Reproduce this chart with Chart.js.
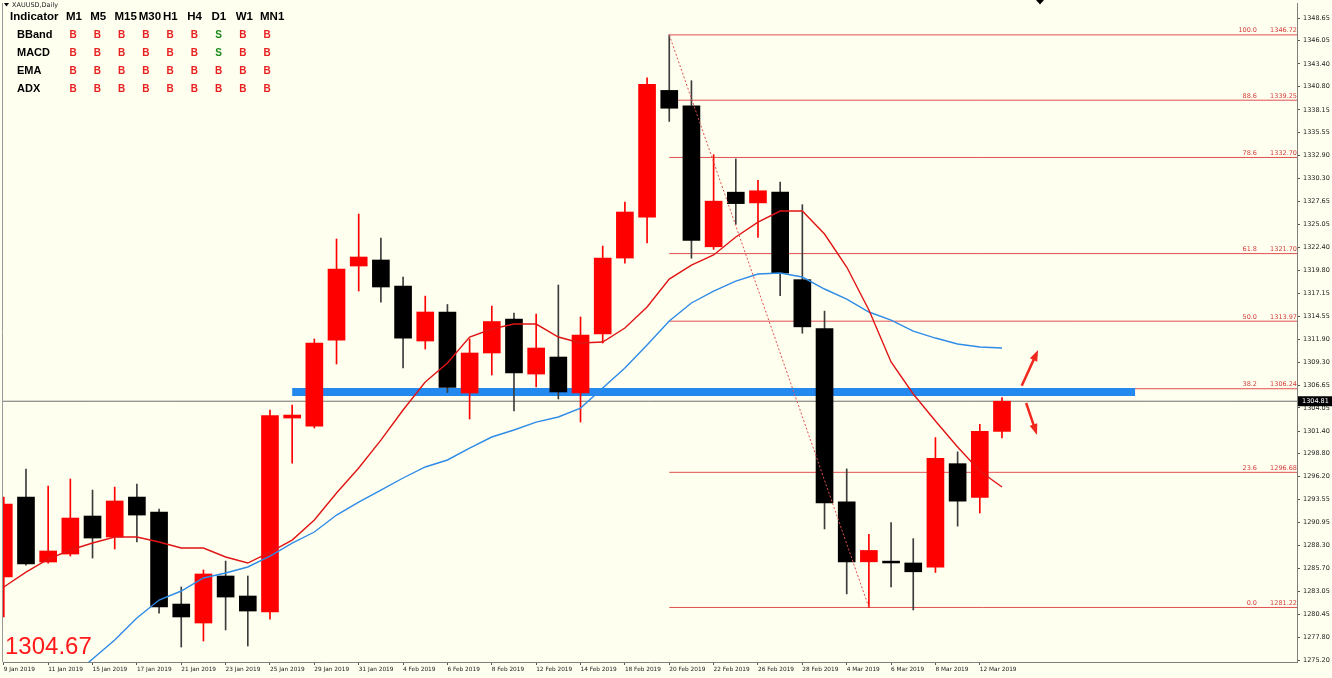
<!DOCTYPE html>
<html>
<head>
<meta charset="utf-8">
<script src="https://cdn.jsdelivr.net/npm/chart.js@4.4.1/dist/chart.umd.min.js"></script>
<style>
  html, body { margin: 0; padding: 0; background: #FFFFF0; overflow: hidden; }
</style>
</head>
<body>
<canvas id="chart" width="1332" height="678"></canvas>
<script>
// XAUUSD daily candles, 9 Jan - 13 Mar 2019
const dates = ["9 Jan","10 Jan","11 Jan","14 Jan","15 Jan","16 Jan","17 Jan","18 Jan","21 Jan","22 Jan",
  "23 Jan","24 Jan","25 Jan","28 Jan","29 Jan","30 Jan","31 Jan","1 Feb","4 Feb","5 Feb",
  "6 Feb","7 Feb","8 Feb","11 Feb","12 Feb","13 Feb","14 Feb","15 Feb","18 Feb","19 Feb",
  "20 Feb","21 Feb","22 Feb","25 Feb","26 Feb","27 Feb","28 Feb","1 Mar","4 Mar","5 Mar",
  "6 Mar","7 Mar","8 Mar","11 Mar","12 Mar","13 Mar"];

const open = [1284.70,1293.85,1286.42,1287.33,1291.68,1289.28,1293.85,1292.14,1281.61,1279.44,
  1284.82,1282.53,1280.70,1302.89,1301.97,1311.81,1320.28,1320.97,1317.99,1311.70,
  1315.02,1305.75,1310.33,1314.22,1307.92,1309.87,1305.75,1312.50,1321.19,1325.87,
  1340.37,1338.62,1322.48,1328.73,1327.50,1328.73,1318.72,1313.12,1293.30,1286.44,
  1286.52,1286.31,1285.83,1297.67,1293.80,1301.36];
const high = [1293.85,1297.06,1295.11,1295.91,1294.65,1294.99,1295.34,1292.48,1283.56,1285.51,
  1286.53,1284.82,1303.81,1304.38,1311.93,1323.37,1326.23,1323.48,1319.02,1316.84,
  1315.88,1311.93,1315.70,1314.90,1314.79,1318.11,1314.45,1322.56,1327.60,1341.80,
  1346.72,1341.48,1333.02,1332.53,1330.07,1329.88,1327.30,1315.12,1297.07,1289.59,
  1290.94,1289.09,1300.66,1299.02,1302.17,1305.24];
const low = [1280.13,1286.07,1286.30,1287.10,1286.87,1287.91,1288.71,1280.58,1276.69,1277.38,
  1278.64,1276.81,1279.89,1297.74,1301.75,1309.07,1317.42,1316.15,1308.61,1310.78,
  1305.81,1302.78,1307.81,1303.69,1306.44,1305.07,1302.43,1311.47,1320.62,1322.92,
  1336.82,1321.17,1322.19,1325.05,1323.54,1316.88,1312.59,1290.20,1282.77,1281.22,
  1283.58,1280.93,1285.22,1290.52,1292.03,1300.62];
const close = [1293.05,1286.19,1287.68,1291.45,1289.16,1293.40,1291.79,1281.27,1280.13,1285.05,
  1282.41,1280.81,1303.18,1303.23,1311.47,1319.94,1321.31,1317.88,1312.04,1315.02,
  1306.38,1310.33,1313.93,1308.04,1310.90,1305.87,1312.39,1321.19,1326.46,1341.07,
  1338.33,1323.21,1327.70,1327.42,1328.89,1319.46,1313.32,1293.18,1286.44,1287.74,
  1286.31,1285.30,1298.29,1293.38,1301.36,1304.81];

// moving averages
const maFast = [1283.56,1285.27,1286.76,1287.79,1288.59,1289.28,1289.28,1288.71,1288.02,1288.02,
  1286.99,1286.30,1287.56,1288.93,1291.22,1294.31,1297.17,1300.37,1303.81,1307.01,
  1309.18,1312.16,1313.07,1313.64,1313.64,1312.16,1311.47,1311.59,1313.19,1315.59,
  1318.79,1320.39,1321.54,1323.60,1325.31,1326.57,1326.57,1323.94,1320.17,1315.25,
  1309.30,1305.64,1302.55,1299.57,1296.83,1295.00];
const maSlow = [null,null,null,1273.15,1275.32,1277.49,1280.01,1282.07,1283.10,1284.59,
  1285.16,1285.85,1287.10,1288.59,1289.85,1291.79,1293.28,1294.65,1296.03,1297.29,
  1298.09,1299.46,1300.72,1301.52,1302.43,1303.01,1304.03,1306.32,1308.61,1311.24,
  1313.99,1316.05,1317.42,1318.56,1319.36,1319.48,1319.02,1317.65,1316.50,1315.02,
  1314.10,1312.84,1312.04,1311.36,1311.01,1310.90];

// fibonacci retracement (20 Feb high -> 5 Mar low)
const fibLevels = ["100.0","88.6","78.6","61.8","50.0","38.2","23.6","0.0"];
const fibPrices = [1346.72,1339.25,1332.70,1321.70,1313.97,1306.24,1296.68,1281.22];
const fibHighBar = 30, fibLowBar = 39;

// support zone, last price, arrows
const zoneBars = [13, 51];
const zonePrice = 1305.87;
const lastPrice = 1304.81;
const bidText = "1304.67";
const arrowFrom = [[45.89, 1306.59], [46.09, 1304.61]];
const arrowTo = [[46.63, 1310.67], [46.58, 1300.95]];

const yTicks = [1348.65,1346.05,1343.40,1340.80,1338.15,1335.55,1332.90,1330.30,1327.65,1325.05,
  1322.40,1319.80,1317.15,1314.55,1311.90,1309.30,1306.65,1304.05,1301.40,1298.80,
  1296.20,1293.55,1290.95,1288.30,1285.70,1283.05,1280.45,1277.80,1275.20];

// signal table
const timeframes = ["M1","M5","M15","M30","H1","H4","D1","W1","MN1"];
const indicators = ["BBand","MACD","EMA","ADX"];
const signals = [
  ["B","B","B","B","B","B","S","B","B"],
  ["B","B","B","B","B","B","S","B","B"],
  ["B","B","B","B","B","B","B","B","B"],
  ["B","B","B","B","B","B","B","B","B"]
];

const X_MAX = 58.3;
const UP = "#ff0000", DOWN = "#000000", DOWN_WICK = "#3c3c3c";
const isUp = close.map((c, i) => c >= open[i]);

Chart.defaults.font.family = "'DejaVu Sans', sans-serif";

const overlay = {
  id: "overlay",
  beforeDraw(chart) {
    const ctx = chart.ctx;
    ctx.save();
    ctx.fillStyle = "#FFFFF0";
    ctx.fillRect(0, 0, chart.width, chart.height);
    ctx.restore();
  },
  afterDraw(chart) {
    const { ctx, chartArea: a } = chart;
    const x = chart.scales.x, y = chart.scales.y;
    ctx.save();

    // left frame
    ctx.strokeStyle = "#9a9a9a";
    ctx.lineWidth = 1;
    ctx.beginPath();
    ctx.moveTo(a.left - 0.5, a.top);
    ctx.lineTo(a.left - 0.5, a.bottom);
    ctx.stroke();

    // fib labels
    ctx.font = "6.5px 'DejaVu Sans'";
    ctx.fillStyle = "#d43c3c";
    ctx.textAlign = "right";
    ctx.textBaseline = "bottom";
    fibLevels.forEach((lv, i) => {
      const py = y.getPixelForValue(fibPrices[i]);
      ctx.fillText(lv, a.right - 40, py - 1);
      ctx.fillText(fibPrices[i].toFixed(2), a.right, py - 1);
    });

    // arrows
    ctx.strokeStyle = "#f0281e";
    ctx.fillStyle = "#f0281e";
    ctx.lineWidth = 2.5;
    arrowFrom.forEach((f, i) => {
      const x0 = x.getPixelForValue(f[0]), y0 = y.getPixelForValue(f[1]);
      const x1 = x.getPixelForValue(arrowTo[i][0]), y1 = y.getPixelForValue(arrowTo[i][1]);
      const ang = Math.atan2(y1 - y0, x1 - x0);
      const c = Math.cos(ang), s = Math.sin(ang);
      ctx.beginPath();
      ctx.moveTo(x0, y0);
      ctx.lineTo(x1 - 7 * c, y1 - 7 * s);
      ctx.stroke();
      ctx.beginPath();
      ctx.moveTo(x1, y1);
      ctx.lineTo(x1 - 11 * c + 4 * s, y1 - 11 * s - 4 * c);
      ctx.lineTo(x1 - 11 * c - 4 * s, y1 - 11 * s + 4 * c);
      ctx.closePath();
      ctx.fill();
    });

    // last price box
    const pp = y.getPixelForValue(lastPrice);
    ctx.fillStyle = "#000";
    ctx.fillRect(a.right + 1, pp - 5, chart.width - a.right - 1, 10);
    ctx.fillStyle = "#fff";
    ctx.textAlign = "left";
    ctx.textBaseline = "middle";
    ctx.font = "6.5px 'DejaVu Sans'";
    ctx.fillText(lastPrice.toFixed(2), a.right + 5, pp);

    // bid text
    ctx.fillStyle = "#ff1a1a";
    ctx.font = "24px 'Liberation Sans'";
    ctx.textBaseline = "alphabetic";
    ctx.fillText(bidText, 5, 654);

    // symbol caption
    ctx.fillStyle = "#000";
    ctx.beginPath();
    ctx.moveTo(4, 3); ctx.lineTo(9, 3); ctx.lineTo(6.5, 6.5); ctx.closePath();
    ctx.fill();
    ctx.font = "6.5px 'DejaVu Sans'";
    ctx.fillStyle = "#222";
    ctx.textBaseline = "middle";
    ctx.fillText("XAUUSD,Daily", 12, 5);

    // chart shift marker
    ctx.fillStyle = "#000";
    ctx.beginPath();
    ctx.moveTo(1036, 0); ctx.lineTo(1044, 0); ctx.lineTo(1040, 4.5); ctx.closePath();
    ctx.fill();

    // signal table
    ctx.fillStyle = "#000";
    ctx.font = "bold 11.5px 'Liberation Sans'";
    ctx.textAlign = "left";
    ctx.fillText("Indicator", 10, 17);
    timeframes.forEach((tf, j) => ctx.fillText(tf, 66 + j * 24.25, 17));
    indicators.forEach((ind, r) => {
      const ry = 35 + r * 18;
      ctx.font = "bold 11px 'Liberation Sans'";
      ctx.fillStyle = "#000";
      ctx.textAlign = "left";
      ctx.fillText(ind, 17, ry);
      ctx.font = "bold 10px 'Liberation Sans'";
      ctx.textAlign = "center";
      signals[r].forEach((sg, j) => {
        ctx.fillStyle = sg === "S" ? "#1a8a1a" : "#e82020";
        ctx.fillText(sg, 73 + j * 24.25, ry);
      });
    });
    ctx.restore();
  }
};

const pts = arr => arr.map((v, i) => ({ x: i, y: v }));
const fibSets = fibPrices.map(p => ({
  type: "line",
  data: [{ x: fibHighBar, y: p }, { x: X_MAX, y: p }],
  borderColor: "#e05050",
  borderWidth: 1,
  pointRadius: 0,
  order: 20
}));

new Chart(document.getElementById("chart").getContext("2d"), {
  type: "bar",
  data: {
    datasets: [
      ...fibSets,
      {
        type: "line",
        data: [{ x: -1, y: lastPrice }, { x: X_MAX, y: lastPrice }],
        borderColor: "#6e6e6e", borderWidth: 1, pointRadius: 0, order: 19
      },
      {
        type: "line",
        data: [{ x: zoneBars[0], y: zonePrice }, { x: zoneBars[1], y: zonePrice }],
        borderColor: "#2489ee", borderWidth: 8, borderCapStyle: "butt", pointRadius: 0, order: 18
      },
      {
        data: low.map((l, i) => ({ x: i, y: [l, high[i]] })),
        backgroundColor: isUp.map(u => u ? UP : DOWN_WICK),
        barThickness: 1, grouped: false, order: 15
      },
      {
        data: open.map((o, i) => ({ x: i, y: [o, close[i]] })),
        backgroundColor: isUp.map(u => u ? UP : DOWN),
        barThickness: 17, grouped: false, order: 14
      },
      {
        type: "line", data: pts(maSlow),
        borderColor: "#2e8be6", borderWidth: 1.4, pointRadius: 0, tension: 0, order: 12
      },
      {
        type: "line", data: pts(maFast),
        borderColor: "#e01414", borderWidth: 1.4, pointRadius: 0, tension: 0, order: 11
      },
      {
        type: "line",
        data: [{ x: fibHighBar, y: fibPrices[0] }, { x: fibLowBar, y: fibPrices[fibPrices.length - 1] }],
        borderColor: "#e05050", borderWidth: 1, borderDash: [2, 2], pointRadius: 0, order: 10
      }
    ]
  },
  options: {
    responsive: false,
    animation: false,
    events: [],
    layout: { padding: { left: 3, top: 3, right: 0, bottom: 0 } },
    plugins: { legend: { display: false }, tooltip: { enabled: false } },
    scales: {
      x: {
        type: "linear",
        min: -0.036,
        max: X_MAX,
        offset: false,
        afterBuildTicks: s => { s.ticks = dates.map((d, i) => i).filter(i => i % 2 === 0).map(v => ({ value: v })); },
        afterFit: s => { s.height = 16; s.paddingLeft = 0; s.paddingRight = 0; },
        grid: { drawOnChartArea: false, offset: false, tickLength: 3, color: "#555" },
        border: { display: true, color: "#808080" },
        ticks: {
          align: "start", autoSkip: false, maxRotation: 0, padding: 1,
          color: "#222", font: { size: 5.8 },
          callback: v => dates[v] + " 2019"
        }
      },
      y: {
        position: "right",
        min: 1274.98,
        max: 1350.37,
        afterBuildTicks: s => { s.ticks = yTicks.map(v => ({ value: v })); },
        afterFit: s => { s.width = 35; s.paddingTop = 0; s.paddingBottom = 0; },
        grid: { drawOnChartArea: false, tickLength: 3, color: "#555" },
        border: { display: true, color: "#808080" },
        ticks: { padding: 3, color: "#222", font: { size: 6.5 }, callback: v => v.toFixed(2) }
      }
    }
  },
  plugins: [overlay]
});
</script>
</body>
</html>
